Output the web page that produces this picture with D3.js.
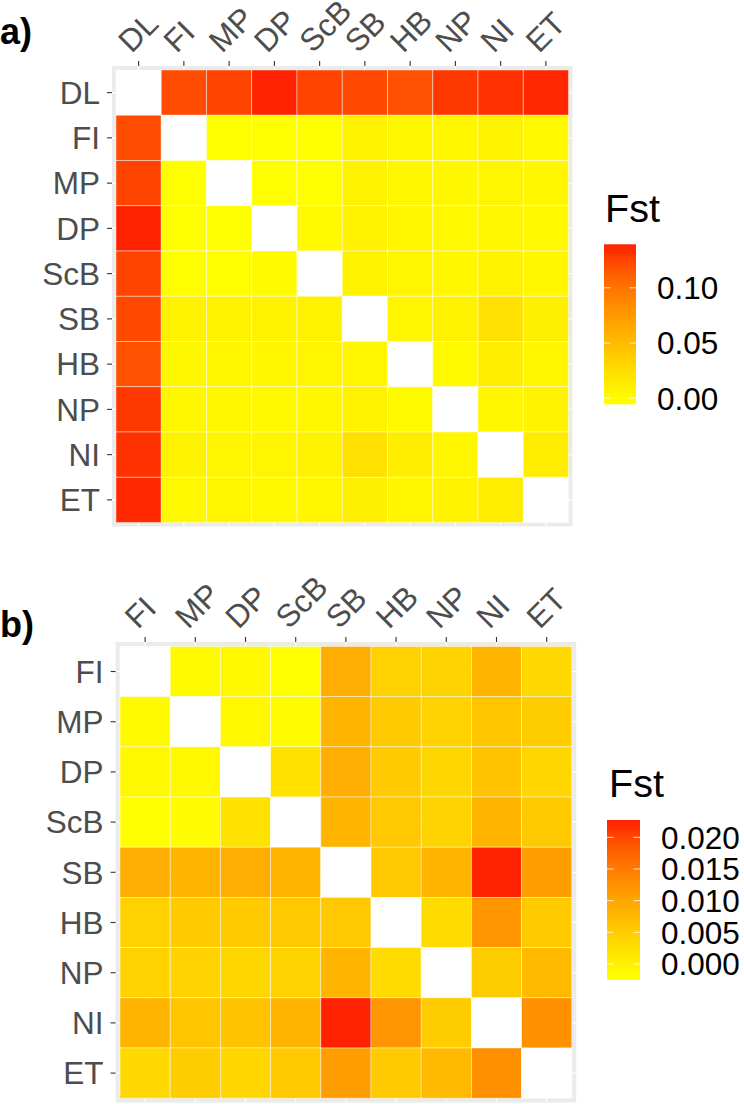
<!DOCTYPE html>
<html>
<head>
<meta charset="utf-8">
<script src="https://cdn.jsdelivr.net/npm/d3@7/dist/d3.min.js"></script>
<style>
  html, body { margin: 0; padding: 0; background: #ffffff; }
  svg { display: block; }
  text { font-family: "Liberation Sans", Arial, Helvetica, sans-serif; }
</style>
</head>
<body>
<script>
// ---------------- DATA ----------------
const popsA = ["DL", "FI", "MP", "DP", "ScB", "SB", "HB", "NP", "NI", "ET"];
const popsB = ["FI", "MP", "DP", "ScB", "SB", "HB", "NP", "NI", "ET"];

// Pairwise Fst, each array = values of that population vs the populations listed after it
const fstDL  = [0.1213, 0.1248, 0.1358, 0.1248, 0.1234, 0.1193, 0.1296, 0.1317, 0.1344]; // vs FI..ET
const fstFI  = [-0.0012, -0.0010, -0.0019, 0.0090, 0.0043, 0.0041, 0.0081, 0.0033];   // vs MP..ET
const fstMP  = [-0.0009, -0.0013, 0.0080, 0.0052, 0.0042, 0.0058, 0.0050];            // vs DP..ET
const fstDP  = [0.0021, 0.0091, 0.0053, 0.0036, 0.0062, 0.0037];                       // vs ScB..ET
const fstScB = [0.0081, 0.0056, 0.0041, 0.0080, 0.0054];                               // vs SB..ET
const fstSB  = [0.0056, 0.0080, 0.0221, 0.0110];                                       // vs HB..ET
const fstHB  = [0.0029, 0.0120, 0.0052];                                               // vs NP..ET
const fstNP  = [0.0050, 0.0074];                                                       // vs NI, ET
const fstNI  = [0.0127];                                                               // vs ET

const ticksA = [0, 0.05, 0.10];
const tickLabelsA = ["0.00", "0.05", "0.10"];
const ticksB = [0, 0.005, 0.010, 0.015, 0.020];
const tickLabelsB = ["0.000", "0.005", "0.010", "0.015", "0.020"];

const legendTitle = "Fst";
const lowColor = "#ffff00";
const highColor = "#ff2200";

// ---------------- BUILD PAIR TABLE ----------------
const rowsByPop = { DL: fstDL, FI: fstFI, MP: fstMP, DP: fstDP, ScB: fstScB, SB: fstSB, HB: fstHB, NP: fstNP, NI: fstNI };
const pairValue = new Map();
popsA.forEach((p, i) => {
  const arr = rowsByPop[p];
  if (!arr) return;
  popsA.slice(i + 1).forEach((q, j) => {
    pairValue.set(p + "|" + q, arr[j]);
    pairValue.set(q + "|" + p, arr[j]);
  });
});

function cellsFor(pops) {
  const cells = [];
  pops.forEach(r => pops.forEach(c => {
    cells.push({ row: r, col: c, value: r === c ? null : pairValue.get(r + "|" + c) });
  }));
  return cells;
}

// ---------------- DRAW ----------------
const W = 744, H = 1104;
const AXIS_FS = 31.5, TITLE_FS = 39.5;
const svg = d3.select("body").append("svg").attr("width", W).attr("height", H);
svg.append("rect").attr("width", W).attr("height", H).attr("fill", "#ffffff");

function drawPanel(cfg) {
  const cells = cellsFor(cfg.pops);
  const vals = cells.filter(d => d.value !== null).map(d => d.value);
  const ext = d3.extent(vals);
  const color = d3.scaleLinear().domain(ext).range([lowColor, highColor]).interpolate(d3.interpolateLab);

  const x = d3.scaleBand().domain(cfg.pops).range([cfg.fx, cfg.fx + cfg.size]).paddingInner(0).paddingOuter(0.088);
  const y = d3.scaleBand().domain(cfg.pops).range([cfg.fy, cfg.fy + cfg.size]).paddingInner(0).paddingOuter(0.088);

  const g = svg.append("g");
  g.append("rect").attr("x", cfg.fx).attr("y", cfg.fy).attr("width", cfg.size).attr("height", cfg.size).attr("fill", "#ebebeb");
  cfg.pops.forEach(p => {
    const cx = x(p) + x.bandwidth() / 2, cy = y(p) + y.bandwidth() / 2;
    g.append("line").attr("x1", cx).attr("x2", cx).attr("y1", cfg.fy).attr("y2", cfg.fy + cfg.size).attr("stroke", "#ffffff").attr("stroke-width", 1.1);
    g.append("line").attr("y1", cy).attr("y2", cy).attr("x1", cfg.fx).attr("x2", cfg.fx + cfg.size).attr("stroke", "#ffffff").attr("stroke-width", 1.1);
  });
  g.selectAll("rect.tile").data(cells).enter().append("rect")
    .attr("class", "tile")
    .attr("x", d => x(d.col)).attr("y", d => y(d.row))
    .attr("width", x.bandwidth()).attr("height", y.bandwidth())
    .attr("fill", d => d.value === null ? "#ffffff" : color(d.value))
    .attr("stroke", "#ffffff").attr("stroke-opacity", 0.55).attr("stroke-width", 0.8);

  const ax = g.append("g").attr("transform", `translate(0,${cfg.fy})`)
    .call(d3.axisTop(x).tickSize(5).tickSizeOuter(0));
  ax.select(".domain").remove();
  ax.selectAll(".tick line").attr("stroke", "#333333").attr("stroke-width", 1.1);
  ax.selectAll(".tick text")
    .attr("x", 0).attr("y", 0).attr("dy", 0)
    .attr("text-anchor", "start")
    .attr("transform", "translate(-7,-12) rotate(-45)")
    .attr("fill", "#4d4d4d").style("font-size", AXIS_FS + "px");

  const ay = g.append("g").attr("transform", `translate(${cfg.fx},0)`)
    .call(d3.axisLeft(y).tickSize(5).tickSizeOuter(0).tickPadding(7));
  ay.select(".domain").remove();
  ay.selectAll(".tick line").attr("stroke", "#333333").attr("stroke-width", 1.1);
  ay.selectAll(".tick text").attr("fill", "#4d4d4d").style("font-size", AXIS_FS + "px").attr("dy", "0.36em");

  svg.append("text").attr("x", 0).attr("y", cfg.tagY).text(cfg.tag)
    .style("font-size", "36px").style("font-weight", "bold").attr("fill", "#000000");

  const L = cfg.legend;
  const halfBin = L.h / 40;
  const ly = d3.scaleLinear().domain(ext).range([L.y + L.h - halfBin, L.y + halfBin]);
  const gradId = "grad" + cfg.tag.replace(/\W/g, "");
  const grad = svg.append("defs").append("linearGradient").attr("id", gradId)
    .attr("x1", 0).attr("y1", 1).attr("x2", 0).attr("y2", 0);
  d3.range(0, 21).forEach(i => {
    const t = i / 20;
    const v = ly.invert(L.y + L.h - t * L.h);
    grad.append("stop").attr("offset", t).attr("stop-color", color(Math.max(ext[0], Math.min(ext[1], v))));
  });
  svg.append("text").attr("x", L.titleX).attr("y", L.titleY).text(legendTitle)
    .style("font-size", TITLE_FS + "px").attr("fill", "#000000");
  svg.append("rect").attr("x", L.x).attr("y", L.y).attr("width", L.w).attr("height", L.h).attr("fill", `url(#${gradId})`);
  cfg.ticks.forEach((tv, i) => {
    const ty = ly(tv);
    svg.append("line").attr("x1", L.x).attr("x2", L.x + L.w / 5).attr("y1", ty).attr("y2", ty).attr("stroke", "#ffffff").attr("stroke-opacity", 0.8).attr("stroke-width", 1);
    svg.append("line").attr("x1", L.x + L.w * 4 / 5).attr("x2", L.x + L.w).attr("y1", ty).attr("y2", ty).attr("stroke", "#ffffff").attr("stroke-opacity", 0.8).attr("stroke-width", 1);
    svg.append("text").attr("x", L.labelX).attr("y", ty).attr("dy", "0.36em").text(cfg.tickLabels[i])
      .style("font-size", AXIS_FS + "px").attr("fill", "#000000");
  });
}

drawPanel({
  pops: popsA, fx: 112, fy: 66, size: 460.5, tag: "a)", tagY: 44,
  ticks: ticksA, tickLabels: tickLabelsA,
  legend: { x: 604, y: 244.3, w: 32, h: 160, titleX: 605, titleY: 222, labelX: 657 }
});
drawPanel({
  pops: popsB, fx: 115.6, fy: 642, size: 460.6, tag: "b)", tagY: 637,
  ticks: ticksB, tickLabels: tickLabelsB,
  legend: { x: 607, y: 820, w: 33, h: 160, titleX: 609, titleY: 797, labelX: 661 }
});
</script>
</body>
</html>
